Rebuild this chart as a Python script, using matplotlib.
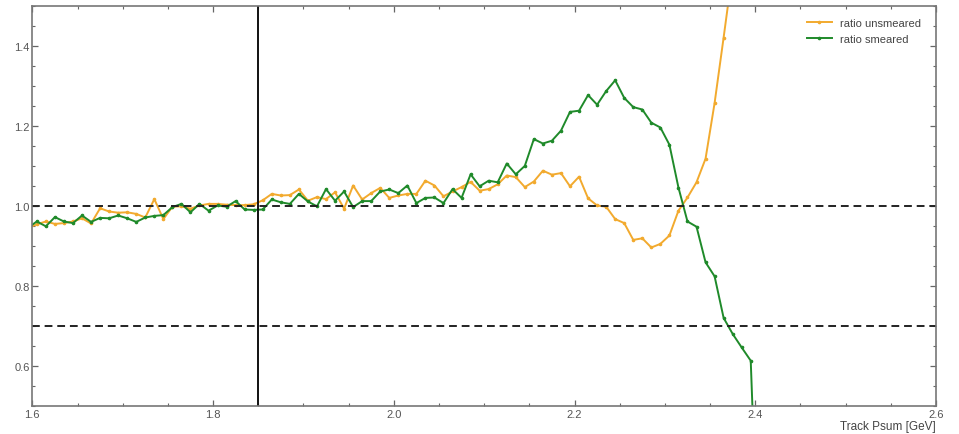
import matplotlib
matplotlib.use("Agg")
import matplotlib.pyplot as plt
from matplotlib.ticker import MultipleLocator, FormatStrFormatter

plt.rcParams['font.family'] = ['Liberation Sans', 'DejaVu Sans']

# bin centres (GeV), 0.01 wide
psum = [1.595 + 0.01 * i for i in range(82)]

ratio_unsmeared = [
    0.946, 0.955, 0.962, 0.956, 0.958, 0.962, 0.970, 0.957, 0.995, 0.987,
    0.984, 0.985, 0.981, 0.972, 1.018, 0.968, 0.999, 1.000, 0.994, 1.002,
    1.006, 1.006, 1.004, 1.003, 1.003, 1.005, 1.015, 1.031, 1.027, 1.028,
    1.042, 1.014, 1.023, 1.018, 1.035, 0.994, 1.052, 1.017, 1.033, 1.046,
    1.021, 1.027, 1.031, 1.031, 1.064, 1.052, 1.025, 1.037, 1.048, 1.061,
    1.039, 1.043, 1.055, 1.077, 1.073, 1.048, 1.062, 1.089, 1.079, 1.083,
    1.050, 1.074, 1.020, 1.002, 0.999, 0.968, 0.958, 0.916, 0.920, 0.897,
    0.906, 0.927, 0.989, 1.022, 1.060, 1.119, 1.258, 1.422, 1.590, 1.800,
    2.100, 2.400,
]

ratio_smeared = [
    0.946, 0.962, 0.950, 0.973, 0.962, 0.958, 0.977, 0.961, 0.971, 0.970,
    0.977, 0.970, 0.961, 0.972, 0.976, 0.978, 0.998, 1.006, 0.985, 1.006,
    0.989, 1.002, 0.999, 1.013, 0.992, 0.991, 0.992, 1.017, 1.010, 1.006,
    1.031, 1.012, 1.000, 1.043, 1.014, 1.037, 0.998, 1.013, 1.013, 1.037,
    1.042, 1.033, 1.052, 1.008, 1.021, 1.022, 1.008, 1.043, 1.021, 1.080,
    1.050, 1.064, 1.060, 1.107, 1.080, 1.101, 1.168, 1.157, 1.164, 1.189,
    1.236, 1.239, 1.278, 1.254, 1.288, 1.315, 1.271, 1.248, 1.242, 1.209,
    1.197, 1.154, 1.047, 0.962, 0.949, 0.860, 0.825, 0.721, 0.681, 0.647,
    0.614, 0.0,
]

cut_line = 1.85
ref_lines = [1.0, 0.7]

fig = plt.figure(figsize=(9.59, 4.35), dpi=100)
ax = fig.add_axes([0.0337, 0.0637, 0.9423, 0.9195])

ax.plot(psum, ratio_unsmeared, color="#f2aa2e", lw=1.4, marker="o", ms=1.6,
        label="ratio unsmeared")
ax.plot(psum, ratio_smeared, color="#1f8a2a", lw=1.4, marker="o", ms=1.6,
        label="ratio smeared")

for y in ref_lines:
    ax.axhline(y, color="#222222", lw=1.4, ls=(0, (4, 2.5)))
ax.axvline(cut_line, color="#111111", lw=1.4)

ax.set_xlim(1.6, 2.6)
ax.set_ylim(0.5, 1.5)
ax.xaxis.set_major_locator(MultipleLocator(0.2))
ax.xaxis.set_minor_locator(MultipleLocator(0.05))
ax.yaxis.set_major_locator(MultipleLocator(0.2))
ax.yaxis.set_minor_locator(MultipleLocator(0.05))
ax.xaxis.set_major_formatter(FormatStrFormatter("%.1f"))
ax.yaxis.set_major_formatter(FormatStrFormatter("%.1f"))
ax.tick_params(which="both", direction="in", top=True, right=True,
               color="#666666", labelcolor="#555555", labelsize=8, pad=2)
ax.tick_params(which="major", length=4, width=0.9)
ax.tick_params(which="minor", length=2, width=0.8)
for s in ax.spines.values():
    s.set_color("#777777")
    s.set_linewidth(1.2)

ax.set_xlabel("Track Psum [GeV]", fontsize=8.5, color="#444444",
              loc="right", labelpad=1)

ax.legend(loc="upper right", bbox_to_anchor=(0.995, 0.995), frameon=False,
          fontsize=8, handlelength=2.2, labelspacing=0.5,
          labelcolor="#444444")

fig.savefig("out.png", dpi=100)
